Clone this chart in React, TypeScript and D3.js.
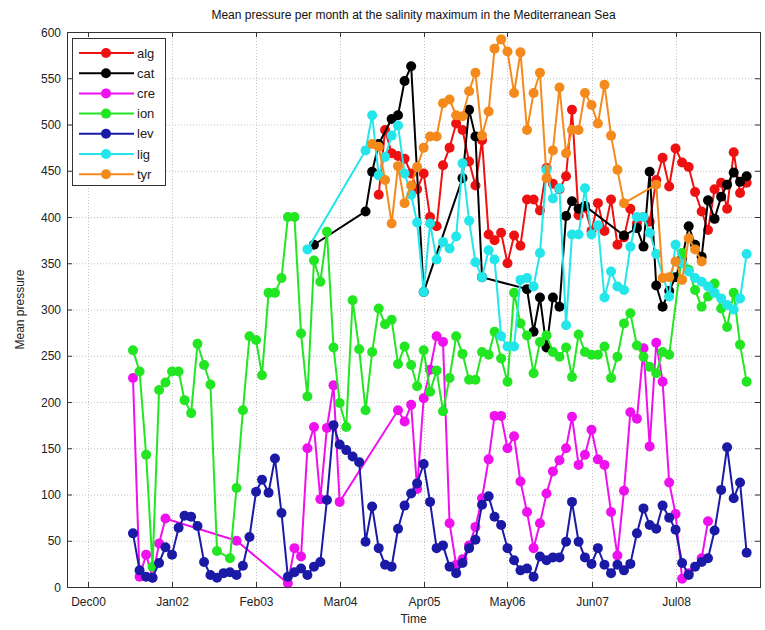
import React, { useEffect, useRef } from "react";
import * as d3 from "d3";

// monthly means, first entry = Jul 2001, one row per Jul..Jun year
const firstMonth = new Date(2001, 6, 1);

const alg = [
  null, null, null, null, null, null, null, null, null, null, null, null,
  null, null, null, null, null, null, null, null, null, null, null, null,
  null, null, null, null, null, null, null, null, null, null, null, null,
  null, null, 424, 494, 469, 466, 463, 447, 430, 447, 400, 390,
  456, 475, 501, 494, 460, 434, 483, 381, 375, 383, 350, 380,
  369, 419, 419, 407, 453, 436, 430, 444, 516, 402, 410, 385,
  415, 385, 419, 370, 378, 409, 393, 400, 395, 440, 464, 433,
  474, 459, 454, 427, 406, 386, 430, 437, 409, 470, 426, 437,
];
const cat = [
  null, null, null, null, null, null, null, null, null, null, null, null,
  null, null, null, null, null, null, null, null, null, null, null, null,
  null, null, null, null, 370, null, null, null, null, null, null, null,
  406, 449, 479, null, 506, 510, 547, 563, null, 319, null, null,
  null, null, null, 442, 516, 487, 335, null, null, null, null, null,
  null, 322, 276, 313, 259, 313, 303, 401, 417, 409, 412, null,
  null, null, null, null, 380, null, 388, 368, 449, 326, 303, 320,
  335, 355, 390, 370, 357, 418, 398, 422, 435, 448, 438, 444,
];
const cre = [
  226, 11, 35, 10, 47, 74, null, null, null, null, null, null,
  null, null, null, null, 50, null, null, null, null, null, null, null,
  4, 42, 33, 150, 173, 95, 172, 218, 92, null, null, null,
  null, null, null, null, null, 191, 179, 197, 106, 204, 235, 271,
  265, 69, 24, 30, 45, 65, 96, 138, 185, 185, 150, 163,
  114, 81, 42, 69, 101, 125, 137, 150, 184, 132, 143, 170,
  138, 132, 81, 34, 104, 189, 182, 258, 152, 264, 222, 113,
  79, 9, 15, null, 31, 71, null, null, null, null, null, null,
];
const ion = [
  256, 233, 143, 22, 213, 221, 233, 233, 202, 188, 263, 240,
  219, 39, null, 31, 107, 191, 271, 267, 229, 318, 318, 334,
  400, 400, 274, 206, 353, 330, 384, 259, 199, 173, 310, 257,
  191, 254, 301, 284, 289, 241, 260, 240, 217, 256, 211, 234,
  190, 226, 271, 252, 224, 224, 254, 251, 276, 247, 222, 318,
  285, 272, 231, 265, 272, 254, 249, 259, 227, 273, 254, 251,
  251, 260, 226, 249, 285, 296, 261, 249, 238, 231, 254, 251,
  null, 361, 343, 321, 303, 314, 328, 301, 281, 318, 262, 222,
];
const lev = [
  58, 18, 11, 10, 26, 43, 35, 64, 77, 76, 66, 27,
  13, 10, 15, 16, 13, 23, 54, 103, 116, 102, 139, 80,
  11, 16, 20, 13, 22, 27, 94, 175, 154, 148, 141, 135,
  49, 87, 42, 24, 22, 63, 88, 101, 112, 133, 92, 42,
  45, 22, 15, 26, 42, 51, 89, 98, 76, 67, 42, 29,
  18, 20, 11, 33, 29, 32, 32, 49, 92, 49, 32, 25,
  42, 24, 15, 24, 18, 25, 58, 85, 67, 63, 88, 75,
  62, 26, 13, 22, 27, 31, 61, 105, 151, 96, 113, 37,
];
const lig = [
  null, null, null, null, null, null, null, null, null, null, null, null,
  null, null, null, null, null, null, null, null, null, null, null, null,
  null, null, null, 365, null, null, null, null, null, null, null, null,
  472, 510, 445, 465, 488, 499, 447, 424, 394, 319, 393, 354,
  373, 366, 379, 458, 396, 351, 335, 364, 354, 271, 260, 260,
  332, 334, 325, 361, 451, 420, 431, 283, 381, 381, 431, 381,
  391, 313, 341, 325, 321, 368, 400, 400, 383, 360, null, 314,
  370, 350, 341, 334, 330, 325, 318, 312, 305, 300, 312, 360,
];
const tyr = [
  null, null, null, null, null, null, null, null, null, null, null, null,
  null, null, null, null, null, null, null, null, null, null, null, null,
  null, null, null, null, null, null, null, null, null, null, null, null,
  null, 479, 476, 440, 393, 455, 415, 434, 454, 475, 487, 487,
  523, 527, 510, 509, 536, 556, 488, 514, 582, 592, 579, 534,
  578, 494, 534, 556, 442, 472, 540, 469, 494, 494, 534, 521,
  501, 543, 488, 451, 415, null, null, null, null, 435, 334, 335,
  352, 332, 377, 365, 352, null, null, null, null, null, null, null,
];

const seriesNames = ["alg", "cat", "cre", "ion", "lev", "lig", "tyr"];
const seriesValues = [alg, cat, cre, ion, lev, lig, tyr];
const seriesColors = ["#ee1111", "#000000", "#ee11ee", "#22e622", "#1a1aa6", "#22e6ea", "#f58a1c"];

const xTicks = [
  new Date(2000, 11, 1), new Date(2002, 0, 1), new Date(2003, 1, 1), new Date(2004, 2, 1),
  new Date(2005, 3, 1), new Date(2006, 4, 1), new Date(2007, 5, 1), new Date(2008, 6, 1),
];
const yTicks = [0, 50, 100, 150, 200, 250, 300, 350, 400, 450, 500, 550, 600];

const font = "'Liberation Sans', Arial, Helvetica, sans-serif";

const App = () => {
  const ref = useRef<SVGSVGElement>(null);

  useEffect(() => {
    const svg = d3.select(ref.current);
    svg.selectAll("*").remove();

    const width = 765;
    const height = 630;
    const margin = { left: 67, top: 32, right: 5, bottom: 43 };
    const w = width - margin.left - margin.right;
    const h = height - margin.top - margin.bottom;

    const x = d3.scaleTime().domain([new Date(2000, 7, 24), new Date(2009, 7, 3)]).range([0, w]);
    const y = d3.scaleLinear().domain([0, 600]).range([h, 0]);

    svg.append("rect").attr("width", width).attr("height", height).attr("fill", "#fff");

    const g = svg.append("g").attr("transform", `translate(${margin.left},${margin.top})`);

    // grid
    g.selectAll(".gy")
      .data(yTicks)
      .enter()
      .append("line")
      .attr("x1", 0)
      .attr("x2", w)
      .attr("y1", (d) => y(d) + 0.5)
      .attr("y2", (d) => y(d) + 0.5)
      .attr("stroke", "#c4c4c4")
      .attr("stroke-dasharray", "1,2");
    g.selectAll(".gx")
      .data(xTicks)
      .enter()
      .append("line")
      .attr("x1", (d) => Math.round(x(d)) + 0.5)
      .attr("x2", (d) => Math.round(x(d)) + 0.5)
      .attr("y1", 0)
      .attr("y2", h)
      .attr("stroke", "#c4c4c4")
      .attr("stroke-dasharray", "1,2");

    // ticks (inward, both sides)
    yTicks.forEach((t) => {
      const yy = y(t) + 0.5;
      g.append("line").attr("x1", 0).attr("x2", 5).attr("y1", yy).attr("y2", yy).attr("stroke", "#333");
      g.append("line").attr("x1", w - 5).attr("x2", w).attr("y1", yy).attr("y2", yy).attr("stroke", "#333");
      g.append("text")
        .attr("x", -6)
        .attr("y", yy + 4)
        .attr("text-anchor", "end")
        .style("font-family", font)
        .style("font-size", "12px")
        .attr("fill", "#222")
        .text(t);
    });
    const fmt = d3.timeFormat("%b%y");
    xTicks.forEach((t) => {
      const xx = Math.round(x(t)) + 0.5;
      g.append("line").attr("x1", xx).attr("x2", xx).attr("y1", h).attr("y2", h - 5).attr("stroke", "#333");
      g.append("line").attr("x1", xx).attr("x2", xx).attr("y1", 0).attr("y2", 5).attr("stroke", "#333");
      g.append("text")
        .attr("x", xx)
        .attr("y", h + 19)
        .attr("text-anchor", "middle")
        .style("font-family", font)
        .style("font-size", "12px")
        .attr("fill", "#222")
        .text(fmt(t));
    });

    // series
    const line = d3
      .line<{ date: Date; value: number }>()
      .x((d) => x(d.date))
      .y((d) => y(d.value));

    seriesValues.forEach((vals, i) => {
      const pts = vals
        .map((v, k) => ({ date: d3.timeMonth.offset(firstMonth, k), value: v }))
        .filter((d) => d.value !== null) as { date: Date; value: number }[];
      const color = seriesColors[i];
      g.append("path")
        .datum(pts)
        .attr("d", line)
        .attr("fill", "none")
        .attr("stroke", color)
        .attr("stroke-width", 2);
      g.selectAll(`.pt${i}`)
        .data(pts)
        .enter()
        .append("circle")
        .attr("cx", (d) => x(d.date))
        .attr("cy", (d) => y(d.value))
        .attr("r", 5)
        .attr("fill", color);
    });

    // box
    g.append("rect")
      .attr("x", 0.5)
      .attr("y", 0.5)
      .attr("width", w)
      .attr("height", h)
      .attr("fill", "none")
      .attr("stroke", "#333");

    // legend
    const lg = g.append("g").attr("transform", "translate(5,6)");
    lg.append("rect")
      .attr("x", 0.5)
      .attr("y", 0.5)
      .attr("width", 93)
      .attr("height", 147)
      .attr("fill", "#fff")
      .attr("stroke", "#333");
    seriesNames.forEach((name, i) => {
      const ly = 15 + i * 20.2;
      lg.append("line")
        .attr("x1", 7)
        .attr("x2", 62)
        .attr("y1", ly)
        .attr("y2", ly)
        .attr("stroke", seriesColors[i])
        .attr("stroke-width", 2);
      lg.append("circle").attr("cx", 34).attr("cy", ly).attr("r", 5).attr("fill", seriesColors[i]);
      lg.append("text")
        .attr("x", 65)
        .attr("y", ly + 4.5)
        .style("font-family", font)
        .style("font-size", "13px")
        .attr("fill", "#222")
        .text(name);
    });

    // labels
    svg.append("text")
      .attr("x", margin.left + w / 2)
      .attr("y", 19)
      .attr("text-anchor", "middle")
      .style("font-family", font)
      .style("font-size", "12px")
      .attr("fill", "#111")
      .text("Mean pressure per month at the salinity maximum in the Mediterranean Sea");
    svg.append("text")
      .attr("x", margin.left + w / 2)
      .attr("y", 623)
      .attr("text-anchor", "middle")
      .style("font-family", font)
      .style("font-size", "12px")
      .attr("fill", "#222")
      .text("Time");
    svg.append("text")
      .attr("transform", `translate(24,${margin.top + h / 2}) rotate(-90)`)
      .attr("text-anchor", "middle")
      .style("font-family", font)
      .style("font-size", "12px")
      .attr("fill", "#222")
      .text("Mean pressure");
  }, []);

  return (
    <svg
      ref={ref}
      width={765}
      height={630}
      style={{ position: "absolute", left: 0, top: 0, display: "block" }}
    />
  );
};

export default App;
